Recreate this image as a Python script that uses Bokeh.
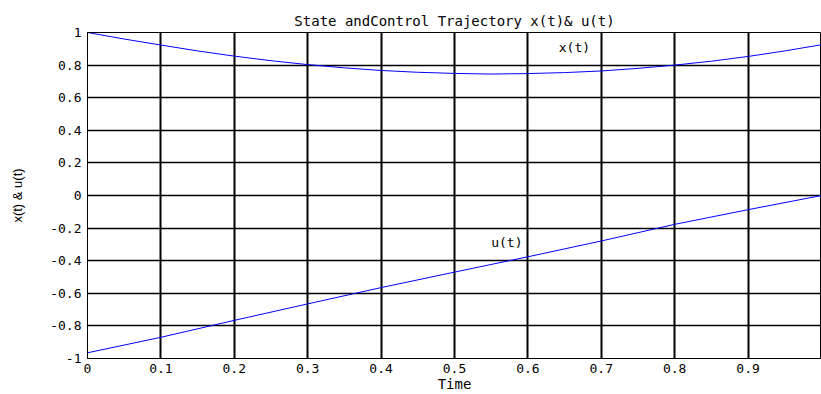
from bokeh.plotting import figure
from bokeh.models import FixedTicker, CustomJSTickFormatter, ColumnDataSource
from bokeh.core.properties import value
from bokeh.embed import file_html
from bokeh.resources import INLINE

# Data
t_x = [0, 0.05, 0.1, 0.15, 0.2, 0.25, 0.3, 0.35, 0.4, 0.45, 0.5, 0.55, 0.6, 0.65, 0.7, 0.75, 0.8, 0.85, 0.9, 0.95, 1.0]
x_vals = [1.0, 0.96, 0.923, 0.887, 0.855, 0.827, 0.803, 0.783, 0.767, 0.756, 0.749, 0.745, 0.748, 0.754, 0.764, 0.780, 0.800, 0.824, 0.853, 0.887, 0.925]
t_u = [0, 0.1, 0.2, 0.3, 0.4, 0.5, 0.6, 0.7, 0.8, 0.9, 1.0]
u_vals = [-0.965, -0.870, -0.766, -0.665, -0.565, -0.47, -0.376, -0.279, -0.177, -0.087, 0.0]
x_ticks = [0, 0.1, 0.2, 0.3, 0.4, 0.5, 0.6, 0.7, 0.8, 0.9]
y_ticks = [-1, -0.8, -0.6, -0.4, -0.2, 0, 0.2, 0.4, 0.6, 0.8, 1]
curve_labels = ["x(t)", "u(t)"]
label_t = [0.642, 0.550]
label_y = [0.909, -0.29]

WIDE = "DejaVu Sans Mono"
NARROW = "Liberation Sans"

p = figure(width=821, height=394, output_backend="svg", toolbar_location=None,
           x_range=(0, 1), y_range=(-1, 1),
           min_border_left=87, min_border_right=0, min_border_top=32, min_border_bottom=34)

p.title.text = "State andControl Trajectory x(t)& u(t)"
p.title.align = "center"
p.title.text_font = WIDE
p.title.text_font_size = "14px"
p.title.text_font_style = "normal"
p.title.text_color = "black"
p.title.standoff = 8
p.title.offset = 0

p.line(t_x, x_vals, line_color="#0000ff", line_width=1)
p.line(t_u, u_vals, line_color="#0000ff", line_width=1)

src = ColumnDataSource(dict(x=label_t, y=label_y, text=curve_labels))
p.text(x="x", y="y", text="text", source=src, text_font=value(WIDE),
       text_font_size="13px", text_color="black", text_align="left", text_baseline="middle")

fmt = CustomJSTickFormatter(code="return Number(tick.toFixed(2)).toString();")
p.xaxis.ticker = FixedTicker(ticks=x_ticks)
p.yaxis.ticker = FixedTicker(ticks=y_ticks)
p.xaxis.formatter = fmt
p.yaxis.formatter = fmt

for ax in (p.xaxis[0], p.yaxis[0]):
    ax.major_label_text_font = WIDE
    ax.major_label_text_font_size = "13px"
    ax.major_label_text_color = "black"
    ax.axis_line_color = "black"
    ax.major_tick_line_color = "black"
    ax.major_tick_in = 4
    ax.major_tick_out = 0
    ax.minor_tick_line_color = None
    ax.axis_label_text_font_style = "normal"
    ax.axis_label_text_color = "black"

p.xaxis.axis_label = "Time"
p.xaxis.axis_label_text_font = WIDE
p.xaxis.axis_label_text_font_size = "14px"
p.yaxis.axis_label = "x(t) & u(t)"
p.yaxis.axis_label_text_font = NARROW
p.yaxis.axis_label_text_font_size = "13px"
p.xaxis.major_label_standoff = 5
p.xaxis.axis_label_standoff = 0
p.yaxis.major_label_standoff = 6
p.yaxis.axis_label_standoff = 22

p.xgrid.grid_line_color = "black"
p.xgrid.grid_line_width = 2
p.ygrid.grid_line_color = "black"
p.ygrid.grid_line_width = 1.5
p.outline_line_color = "black"
p.outline_line_width = 1
p.background_fill_color = "white"
p.border_fill_color = "white"

open("out.html", "w").write(file_html(p, INLINE))
